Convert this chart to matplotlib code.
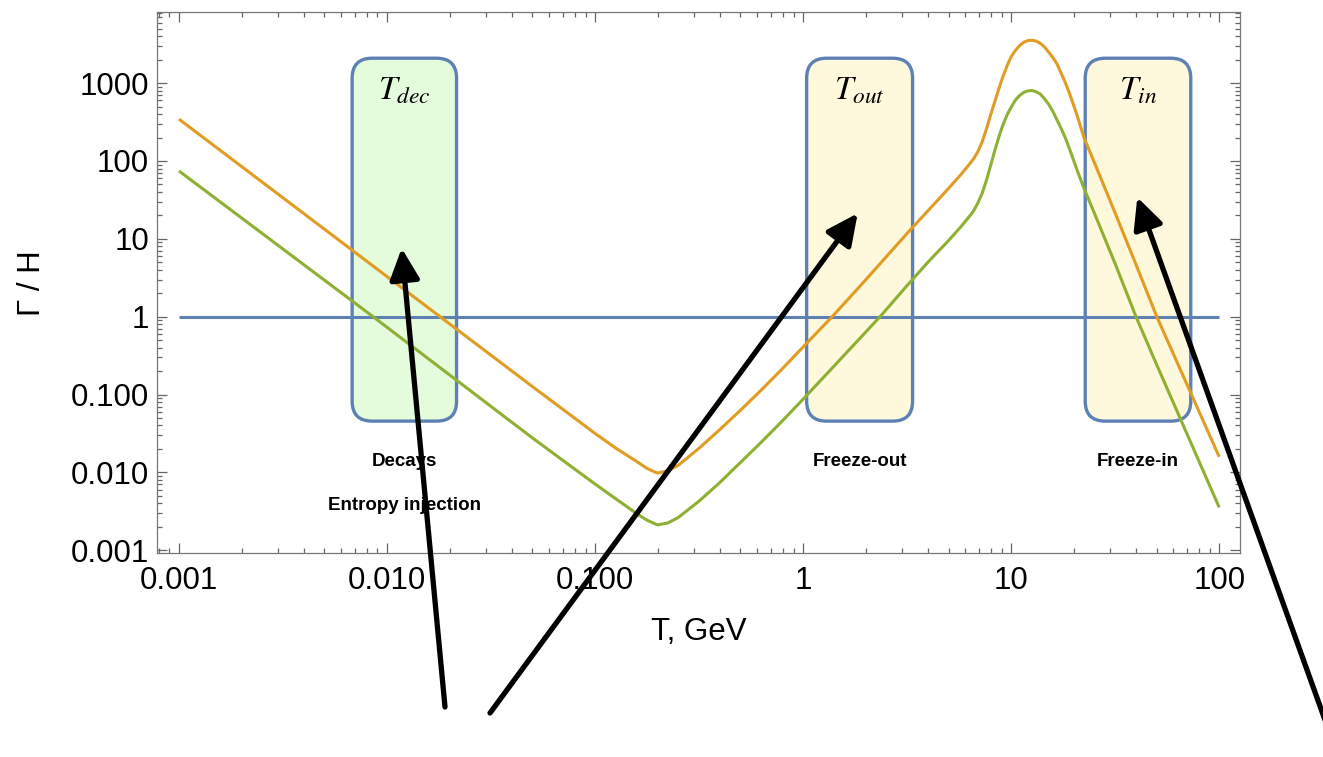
import matplotlib
matplotlib.use("Agg")
import matplotlib.pyplot as plt
import numpy as np
from matplotlib.patches import FancyBboxPatch
from matplotlib.ticker import LogLocator, NullFormatter

plt.rcParams['font.family'] = ['Liberation Sans', 'DejaVu Sans']
plt.rcParams['mathtext.fontset'] = 'stix'

# rate over Hubble for two benchmark models, given as log10(T/GeV) and log10(Gamma/H)
log_t_orange = [-3.0, -1.745, -1.3, -1.0, -0.9, -0.8, -0.75, -0.7, -0.65, -0.6,
                -0.5, -0.4, -0.3, -0.2, -0.1, 0.0, 0.14, 0.3, 0.5, 0.6,
                0.7, 0.76, 0.8, 0.82, 0.84, 0.86, 0.88, 0.90, 0.92, 0.94,
                0.96, 0.98, 1.0, 1.02, 1.04, 1.06, 1.08, 1.10, 1.12, 1.14,
                1.16, 1.18, 1.20, 1.22, 1.24, 1.26, 1.28, 1.30, 1.32, 1.35,
                1.4, 1.5, 1.6, 1.7, 1.8, 1.9, 2.0]
log_g_orange = [2.538, 0.0, -0.90, -1.50, -1.69, -1.86, -1.95, -2.01, -1.98, -1.91,
                -1.69, -1.45, -1.20, -0.94, -0.67, -0.39, 0.0, 0.47, 1.07, 1.36,
                1.65, 1.83, 1.96, 2.03, 2.12, 2.24, 2.40, 2.58, 2.75, 2.92,
                3.08, 3.22, 3.34, 3.42, 3.48, 3.525, 3.547, 3.551, 3.540, 3.512,
                3.465, 3.40, 3.33, 3.25, 3.13, 3.01, 2.87, 2.72, 2.56, 2.30,
                1.98, 1.33, 0.67, 0.0, -0.60, -1.20, -1.80]

log_t_green = [-3.0, -2.067, -1.3, -1.0, -0.9, -0.8, -0.75, -0.7, -0.65, -0.6,
               -0.5, -0.4, -0.3, -0.2, -0.1, 0.0, 0.14, 0.37, 0.5, 0.6,
               0.7, 0.76, 0.8, 0.82, 0.84, 0.86, 0.88, 0.90, 0.92, 0.94,
               0.96, 0.98, 1.0, 1.02, 1.04, 1.06, 1.08, 1.10, 1.12, 1.14,
               1.16, 1.18, 1.20, 1.22, 1.24, 1.26, 1.28, 1.30, 1.32, 1.35,
               1.4, 1.5, 1.6, 1.7, 1.8, 1.9, 2.0]
log_g_green = [1.872, 0.0, -1.56, -2.15, -2.34, -2.53, -2.615, -2.675, -2.65, -2.58,
               -2.37, -2.13, -1.87, -1.61, -1.34, -1.06, -0.66, 0.0, 0.40, 0.70,
               0.98, 1.16, 1.29, 1.36, 1.46, 1.58, 1.74, 1.93, 2.12, 2.30,
               2.46, 2.59, 2.69, 2.78, 2.84, 2.88, 2.90, 2.905, 2.89, 2.86,
               2.80, 2.73, 2.64, 2.53, 2.42, 2.30, 2.16, 2.01, 1.86, 1.65,
               1.33, 0.68, 0.0, -0.62, -1.23, -1.84, -2.45]

t_unit = [0.001, 100]
g_unit = [1, 1]

# temperature windows
box_t = [(0.0068, 0.0216), (1.04, 3.36), (22.7, 73.0)]
box_g = (0.0455, 2090)
box_titles = [r'$T_{dec}$', r'$T_{out}$', r'$T_{in}$']
box_fills = ['#e4fbdc', '#fef8dc', '#fef8dc']
box_notes = [['Decays', 'Entropy injection'], ['Freeze-out'], ['Freeze-in']]

x_ticks = [0.001, 0.01, 0.1, 1, 10, 100]
x_labels = ['0.001', '0.010', '0.100', '1', '10', '100']
y_ticks = [0.001, 0.01, 0.1, 1, 10, 100, 1000]
y_labels = ['0.001', '0.010', '0.100', '1', '10', '100', '1000']

blue = '#5e81b5'
orange = '#e19c24'
green = '#8fb032'

fig = plt.figure(figsize=(13.23, 7.57), dpi=100)
ax = fig.add_axes([157.3 / 1323, 1 - 553.3 / 757, (1240 - 157.3) / 1323, (553.3 - 12.3) / 757])
ax.set_xscale('log')
ax.set_yscale('log')
ax.set_xlim(10 ** -3.104, 10 ** 2.1)
ax.set_ylim(10 ** -3.04, 10 ** 3.91)

line_kw = dict(lw=2.2, zorder=3, solid_joinstyle='round', solid_capstyle='butt')
ax.plot(t_unit, g_unit, color=blue, **line_kw)
ax.plot(10 ** np.array(log_t_orange), 10 ** np.array(log_g_orange), color=orange, **line_kw)
ax.plot(10 ** np.array(log_t_green), 10 ** np.array(log_g_green), color=green, **line_kw)

ax.set_xticks(x_ticks, x_labels)
ax.set_yticks(y_ticks, y_labels)
for axis in (ax.xaxis, ax.yaxis):
    axis.set_minor_locator(LogLocator(base=10, subs=np.arange(2, 10), numticks=20))
    axis.set_minor_formatter(NullFormatter())
ax.tick_params(which='both', direction='in', top=True, right=True, colors='#666666',
               labelcolor='black', labelsize=22.5, width=0.9)
ax.tick_params(which='major', length=7.2)
ax.tick_params(which='minor', length=3.6)
ax.tick_params(axis='x', pad=9)
ax.tick_params(axis='y', pad=6)
for sp in ax.spines.values():
    sp.set_color('#777777')
    sp.set_linewidth(0.9)

ax.set_xlabel('T, GeV', fontsize=22.5)
ax.set_ylabel('Γ / H', fontsize=22.5)
ax.xaxis.set_label_coords(0.5, -0.118)
ax.yaxis.set_label_coords(-0.102, 0.5)

# rounded windows, drawn in pixels so the corners stay circular
fig.canvas.draw()
for (t_lo, t_hi), fill, title, notes in zip(box_t, box_fills, box_titles, box_notes):
    x0, y0 = ax.transData.transform((t_lo, box_g[0]))
    x1, y1 = ax.transData.transform((t_hi, box_g[1]))
    box = FancyBboxPatch((x0, y0), x1 - x0, y1 - y0,
                         boxstyle='round,pad=0,rounding_size=20',
                         transform=None, facecolor=fill, edgecolor=blue,
                         lw=2.4, zorder=2)
    ax.add_artist(box)
    t_mid = np.sqrt(t_lo * t_hi)
    ax.annotate(title, xy=(t_mid, box_g[1]), xytext=(0, -29.5), textcoords='offset points',
                ha='center', va='baseline', fontsize=24, zorder=4)
    for k, note in enumerate(notes):
        ax.annotate(note, xy=(t_mid, box_g[0]), xytext=(0, -29 - 32 * k),
                    textcoords='offset points', ha='center', va='center',
                    fontsize=13.5, fontweight='bold', zorder=4)

# pointer arrows, in figure pixels
arrows = [((445, 50), (401.7, 508.7)),
          ((490, 44), (857.7, 543.7)),
          ((1325, 37), (1137.3, 559.7))]
for tail, tip in arrows:
    ax.annotate('', xy=tip, xytext=tail, xycoords='figure pixels',
                textcoords='figure pixels', annotation_clip=False,
                arrowprops=dict(arrowstyle='-|>,head_length=1.35,head_width=0.65',
                                mutation_scale=14, color='black', lw=3.8,
                                shrinkA=0, shrinkB=0),
                zorder=6)

fig.savefig('out.png', dpi=100)
